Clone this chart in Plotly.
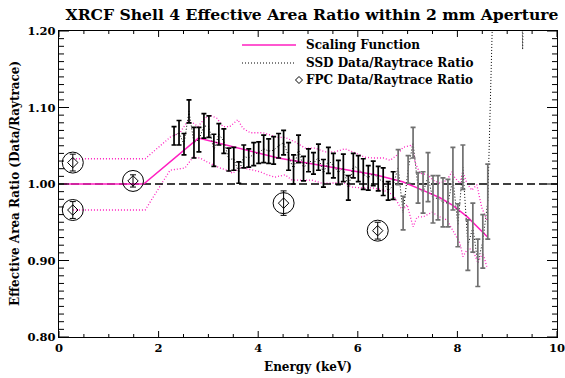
import plotly.graph_objects as go

# ---------------- data ----------------
ssd_energy = [2.31, 2.41, 2.51, 2.61, 2.71, 2.81, 2.91, 3.01, 3.11, 3.21,
              3.31, 3.41, 3.51, 3.61, 3.71, 3.81, 3.91, 4.01, 4.11, 4.21,
              4.31, 4.41, 4.51, 4.61, 4.71, 4.81, 4.91, 5.01, 5.11, 5.21,
              5.31, 5.41, 5.51, 5.61, 5.71, 5.81, 5.91, 6.01, 6.11, 6.21,
              6.31, 6.41, 6.51, 6.61, 6.71, 6.81, 6.91, 7.01, 7.11, 7.21,
              7.31, 7.41, 7.51, 7.61, 7.71, 7.81, 7.91, 8.01, 8.11, 8.21,
              8.31, 8.41, 8.51, 8.61]
ssd_ratio = [1.063, 1.067, 1.052, 1.095, 1.054, 1.058, 1.076, 1.075, 1.044, 1.065,
             1.056, 1.032, 1.033, 1.015, 1.036, 1.034, 1.039, 1.041, 1.046, 1.043,
             1.044, 1.050, 1.054, 1.036, 1.019, 1.046, 1.020, 1.031, 1.027, 1.035,
             1.014, 1.031, 1.024, 1.015, 1.021, 0.995, 1.024, 1.020, 1.013, 1.008,
             1.014, 1.007, 1.003, 0.991, 0.998, 1.022, 0.962, 1.019, 1.054, 0.995,
             0.989, 1.009, 0.980, 0.982, 0.976, 0.975, 1.007, 0.946, 1.022, 0.920,
             0.943, 0.897, 0.925, 0.977]
ssd_err = [0.012, 0.016, 0.014, 0.015, 0.020, 0.016, 0.016, 0.014, 0.021, 0.014,
           0.016, 0.015, 0.015, 0.014, 0.015, 0.012, 0.015, 0.014, 0.018, 0.016,
           0.018, 0.016, 0.016, 0.018, 0.019, 0.018, 0.016, 0.015, 0.014, 0.017,
           0.018, 0.017, 0.016, 0.016, 0.018, 0.016, 0.016, 0.017, 0.020, 0.016,
           0.016, 0.016, 0.018, 0.012, 0.018, 0.023, 0.022, 0.018, 0.020, 0.020,
           0.027, 0.032, 0.031, 0.029, 0.032, 0.031, 0.041, 0.028, 0.029, 0.033,
           0.032, 0.031, 0.035, 0.049]
# SSD ratio beyond the error-bar range (raytrace area -> 0, ratio blows up)
ssd_tail_energy = [8.71, 8.81, 8.91, 9.01, 9.11, 9.21, 9.31, 9.41]
ssd_tail_ratio = [1.23, 1.6, 2.0, 2.0, 1.8, 1.6, 1.176, 1.6]
n_black_bars = 45  # later error bars drawn in grey

scale_energy = [0.1, 1.7, 2.8, 4.4, 6.35, 6.9, 7.3, 7.65, 7.9, 8.2, 8.6]
scale_ratio = [1.0, 1.0, 1.060, 1.034, 1.012, 1.003, 0.992, 0.982, 0.9725, 0.957, 0.931]

upper_energy = [0.28, 1.73, 2.23, 2.43, 2.57, 2.69, 2.79, 2.93, 3.03, 3.17, 3.29, 3.43,
                3.59, 3.69, 3.84, 4.10, 4.38, 4.54, 4.74, 4.94, 5.14, 5.34, 5.54, 5.74,
                5.94, 6.14, 6.31, 6.51, 6.65, 6.79, 6.91, 7.09, 7.15, 7.25, 7.41, 7.51,
                7.65, 7.79, 7.89, 7.95, 8.05, 8.11, 8.19, 8.29, 8.39, 8.49, 8.59]
upper_ratio = [1.033, 1.033, 1.061, 1.067, 1.081, 1.080, 1.075, 1.086, 1.090, 1.086, 1.075, 1.075,
               1.084, 1.073, 1.067, 1.067, 1.061, 1.061, 1.055, 1.047, 1.047, 1.042, 1.042, 1.046,
               1.041, 1.035, 1.034, 1.034, 1.031, 1.038, 1.048, 1.051, 1.028, 1.014, 1.012, 1.005,
               1.001, 1.005, 1.016, 1.008, 1.001, 1.016, 1.001, 0.992, 0.999, 0.969, 0.953]
lower_energy = [0.28, 1.73, 2.23, 2.53, 2.69, 2.83, 2.97, 3.09, 3.23, 3.37, 3.49, 3.63,
                3.78, 3.90, 4.04, 4.18, 4.34, 4.54, 4.68, 4.88, 5.08, 5.28, 5.48, 5.68,
                5.88, 6.08, 6.29, 6.51, 6.71, 6.85, 6.91, 6.99, 7.11, 7.19, 7.31, 7.49,
                7.65, 7.79, 7.91, 8.05, 8.11, 8.21, 8.31, 8.41, 8.51, 8.59]
lower_ratio = [0.966, 0.966, 1.018, 1.021, 1.035, 1.034, 1.029, 1.025, 1.021, 1.018, 1.014, 1.022,
               1.020, 1.018, 1.016, 1.012, 1.009, 1.012, 1.005, 1.005, 1.005, 1.001, 1.001, 1.003,
               0.996, 0.995, 0.995, 0.992, 0.986, 0.970, 0.966, 0.973, 0.944, 0.957, 0.957, 0.963,
               0.957, 0.953, 0.940, 0.923, 0.905, 0.916, 0.914, 0.897, 0.910, 0.892]

fpc_energy = [0.277, 0.277, 1.486, 4.51, 6.40]
fpc_ratio = [1.028, 0.966, 1.004, 0.975, 0.939]
fpc_err = [0.011, 0.011, 0.008, 0.016, 0.011]

ref_x = [0, 10]
ref_y = [1.0, 1.0]

x_range = [0, 10]
y_range = [0.8, 1.2]
x_ticks = [0, 2, 4, 6, 8, 10]
y_ticks = [0.80, 0.90, 1.00, 1.10, 1.20]
y_tickformat = ".2f"          # labels 0.80 ... 1.20
x_minor_step = 0.5
y_minor_step = 0.01

title_text = "XRCF Shell 4 Effective Area Ratio within 2 mm Aperture"
x_title = "Energy (keV)"
y_title = "Effective Area Ratio (Data/Raytrace)"
legend_labels = ["Scaling Function", "SSD Data/Raytrace Ratio", "FPC Data/Raytrace Ratio"]

# ---------------- style ----------------
FONT = "DejaVu Serif"
MAG = "#ff1fc0"
W, H = 565, 378
L, R, T, B = 59, 8, 31, 41
PW, PH = W - L - R, H - T - B
X_PER_PX = (x_range[1] - x_range[0]) / PW
Y_PER_PX = (y_range[1] - y_range[0]) / PH


def px2paper(px, py):
    return (px - L) / PW, (H - B - py) / PH


def bold(size):
    return dict(family=FONT, size=size, color="black", weight="bold")


fig = go.Figure()

for ex, ey in [(upper_energy, upper_ratio), (lower_energy, lower_ratio)]:
    fig.add_trace(go.Scatter(x=ex, y=ey, mode="lines",
                             line=dict(color=MAG, width=1.3, dash="1px,2px"),
                             showlegend=False, hoverinfo="skip"))

fig.add_trace(go.Scatter(x=ref_x, y=ref_y, mode="lines",
                         line=dict(color="black", width=1.3, dash="8px,4px"),
                         showlegend=False))

fig.add_trace(go.Scatter(x=scale_energy, y=scale_ratio, mode="lines",
                         line=dict(color=MAG, width=1.5), showlegend=False))

fig.add_trace(go.Scatter(x=ssd_energy + ssd_tail_energy, y=ssd_ratio + ssd_tail_ratio,
                         mode="lines", line=dict(color="black", width=1, dash="1px,2px"),
                         showlegend=False))

for sl, col in [(slice(0, n_black_bars), "black"), (slice(n_black_bars, None), "#707070")]:
    fig.add_trace(go.Scatter(x=ssd_energy[sl], y=ssd_ratio[sl], mode="markers",
                             marker=dict(size=1, color="rgba(0,0,0,0)"),
                             error_y=dict(type="data", array=ssd_err[sl], visible=True,
                                          color=col, thickness=1.7, width=2.5),
                             showlegend=False))

fig.add_trace(go.Scatter(x=fpc_energy, y=fpc_ratio, mode="markers",
                         marker=dict(symbol="circle-open", size=21, color="black",
                                     line=dict(width=1, color="black")),
                         showlegend=False))
fig.add_trace(go.Scatter(x=fpc_energy, y=fpc_ratio, mode="markers",
                         marker=dict(symbol="diamond-open", size=8, color="black",
                                     line=dict(width=1, color="black")),
                         error_y=dict(type="data", array=fpc_err, visible=True,
                                      color="black", thickness=1, width=3),
                         showlegend=False))

# ---------------- tick marks on all four sides (derived from the tick arrays) -------------
tx, ty = [], []
n_xmin = int(round((x_range[1] - x_range[0]) / x_minor_step))
for i in range(n_xmin + 1):
    xv = x_range[0] + i * x_minor_step
    is_major = any(abs(xv - t) < 1e-9 for t in x_ticks)
    ln = (6 if is_major else 3) * Y_PER_PX
    tx += [xv, xv, None, xv, xv, None]
    ty += [y_range[0], y_range[0] + ln, None, y_range[1], y_range[1] - ln, None]
n_ymin = int(round((y_range[1] - y_range[0]) / y_minor_step))
for i in range(n_ymin + 1):
    yv = y_range[0] + i * y_minor_step
    is_major = any(abs(yv - t) < 1e-9 for t in y_ticks)
    ln = (10 if is_major else 5) * X_PER_PX
    tx += [x_range[0], x_range[0] + ln, None, x_range[1], x_range[1] - ln, None]
    ty += [yv, yv, None, yv, yv, None]
fig.add_trace(go.Scatter(x=tx, y=ty, mode="lines", line=dict(color="black", width=1),
                         showlegend=False, hoverinfo="skip", connectgaps=False))

# ---------------- manual legend ----------------
shapes = []
ann = []
leg_rows = [45, 63, 80]
x0p, _ = px2paper(242, 0)
x1p, _ = px2paper(296, 0)
txp, _ = px2paper(304, 0)
_, y0 = px2paper(0, leg_rows[0])
shapes.append(dict(type="line", xref="paper", yref="paper", x0=x0p, x1=x1p, y0=y0, y1=y0,
                   line=dict(color=MAG, width=1.5)))
_, y1 = px2paper(0, leg_rows[1])
shapes.append(dict(type="line", xref="paper", yref="paper", x0=x0p, x1=x1p, y0=y1, y1=y1,
                   line=dict(color="black", width=1, dash="1px,2px")))
dcx, dcy = px2paper(299, leg_rows[2])
dx, dy = 3.5 / PW, 3.5 / PH
shapes.append(dict(type="path", xref="paper", yref="paper",
                   path=f"M {dcx-dx} {dcy} L {dcx} {dcy+dy} L {dcx+dx} {dcy} L {dcx} {dcy-dy} Z",
                   line=dict(color="black", width=1)))
for lab, row in zip(legend_labels, leg_rows):
    _, yy = px2paper(0, row)
    ann.append(dict(text=lab, x=txp, y=yy, xref="paper", yref="paper", xanchor="left",
                    yanchor="middle", showarrow=False, font=bold(12)))

xt, yt = px2paper(308, 367)
ann.append(dict(text=x_title, x=xt, y=yt, xref="paper", yref="paper", xanchor="center",
                yanchor="middle", showarrow=False, font=bold(12)))
xt, yt = px2paper(15, 184)
ann.append(dict(text=y_title, x=xt, y=yt, xref="paper", yref="paper", xanchor="center",
                yanchor="middle", showarrow=False, textangle=-90, font=bold(12)))

tickfont = bold(11.5)
axis_common = dict(showgrid=False, zeroline=False, showline=True, linecolor="black",
                   linewidth=1.2, ticks="", automargin=False, tickmode="linear",
                   mirror=True)

fig.update_layout(
    template="none",
    width=W, height=H,
    margin=dict(l=L, r=R, t=T, b=B, autoexpand=False),
    paper_bgcolor="white", plot_bgcolor="white",
    title=dict(text=title_text, x=(312 - L) / PW, xref="paper", xanchor="center",
               y=1 - 15 / H, yanchor="middle", font=bold(15.6)),
    xaxis=dict(tickfont=tickfont, ticklabeloverflow="allow",
               tick0=x_ticks[0], dtick=x_ticks[1] - x_ticks[0], range=x_range,
               **axis_common),
    yaxis=dict(tickfont=tickfont, ticklabeloverflow="allow",
               tick0=y_ticks[0], dtick=round(y_ticks[1] - y_ticks[0], 2),
               range=y_range, tickformat=y_tickformat, **axis_common),
    shapes=shapes, annotations=ann, showlegend=False,
)

fig.write_html("out.html")
